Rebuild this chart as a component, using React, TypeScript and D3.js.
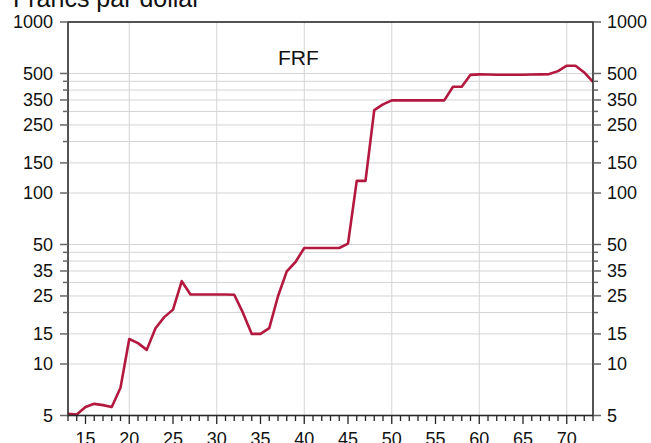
import React from "react";
import * as d3 from "d3";

const years: number[] = [
  13, 14, 15, 16, 17, 18, 19, 20, 21, 22, 23, 24, 25, 26, 27, 28, 29, 30, 31, 32,
  33, 34, 35, 36, 37, 38, 39, 40, 41, 42, 43, 44, 45, 46, 47, 48, 49, 50, 51, 52,
  53, 54, 55, 56, 57, 58, 59, 60, 61, 62, 63, 64, 65, 66, 67, 68, 69, 70, 71, 72, 73,
];
const frf: number[] = [
  5.12, 5.07, 5.6, 5.85, 5.75, 5.6, 7.26, 14.0, 13.25, 12.1, 16.2, 18.8, 20.8, 30.5,
  25.5, 25.5, 25.5, 25.5, 25.5, 25.4, 19.9, 15.0, 15.0, 16.2, 24.9, 34.8, 39.5, 47.7,
  47.7, 47.7, 47.7, 47.7, 50.6, 117.8, 117.8, 305, 330, 348, 348, 348, 348, 348, 348,
  348, 418, 418, 491, 494, 493, 492, 492, 492, 492, 493, 494, 496, 516, 555, 555, 507, 447,
];
const yLabelTicks: number[] = [5, 10, 15, 25, 35, 50, 100, 150, 250, 350, 500, 1000];
const yMinorTicks: number[] = [20, 30, 40, 45, 200, 300, 400, 450];
const xLabelTicks: number[] = [15, 20, 25, 30, 35, 40, 45, 50, 55, 60, 65, 70];
const xGridTicks: number[] = [20, 30, 40, 50, 60, 70];
const seriesName = "FRF";
const unitTitle = "Francs par dollar";

const W = 651;
const H = 443;
const L = 68;
const R = 593;
const T = 22;
const B = 415.5;
const FONT = "'Liberation Sans', Arial, sans-serif";

function Txt(props: { x: number; y: number; size: number; anchor?: string; children: React.ReactNode }) {
  return (
    <text
      x={props.x}
      y={props.y}
      fontSize={props.size}
      fontFamily={FONT}
      textAnchor={props.anchor || "start"}
      fill="#111"
    >
      {props.children}
    </text>
  );
}

export default function App() {
  const x = d3.scaleLinear().domain([13, 73]).range([L, R]);
  const y = d3.scaleLog().domain([5, 1000]).range([B, T]);
  const line = d3
    .line<number>()
    .x((_, i) => x(years[i]))
    .y((d) => y(d));
  const allMinorX = d3.range(13, 74);
  const gridY = [...yLabelTicks, ...yMinorTicks].filter((v) => v !== 5 && v !== 1000);

  return (
    <svg
      width={W}
      height={H}
      style={{ position: "absolute", left: 0, top: 0, background: "#fff" }}
    >
      <rect x={0} y={0} width={W} height={H} fill="#fff" />
      {gridY.map((v) => (
        <line key={"gy" + v} x1={L} x2={R} y1={y(v)} y2={y(v)} stroke="#d4d4d4" strokeWidth={1} />
      ))}
      {xGridTicks.map((v) => (
        <line key={"gx" + v} x1={x(v)} x2={x(v)} y1={T} y2={B} stroke="#d4d4d4" strokeWidth={1} />
      ))}
      <path d={line(frf) || ""} fill="none" stroke="#B3183E" strokeWidth={2.6} strokeLinejoin="round" />
      <rect x={L} y={T} width={R - L} height={B - T} fill="none" stroke="#2a2a2a" strokeWidth={1.6} />
      {yLabelTicks.map((v) => (
        <g key={"yl" + v}>
          <line x1={L - 8} x2={L} y1={y(v)} y2={y(v)} stroke="#666" strokeWidth={1.5} />
          <line x1={R} x2={R + 8} y1={y(v)} y2={y(v)} stroke="#666" strokeWidth={1.5} />
          <Txt x={L - 15} y={y(v) + 6.4} size={18} anchor="end">{v}</Txt>
          <Txt x={R + 14} y={y(v) + 6.4} size={18} anchor="start">{v}</Txt>
        </g>
      ))}
      {yMinorTicks.map((v) => (
        <g key={"ym" + v}>
          <line x1={L - 5} x2={L} y1={y(v)} y2={y(v)} stroke="#666" strokeWidth={1.5} />
          <line x1={R} x2={R + 5} y1={y(v)} y2={y(v)} stroke="#666" strokeWidth={1.5} />
        </g>
      ))}
      {allMinorX.map((v) => (
        <line
          key={"xt" + v}
          x1={x(v)}
          x2={x(v)}
          y1={B}
          y2={B + (v % 5 === 0 ? 8.5 : 5.5)}
          stroke="#222"
          strokeWidth={1.3}
        />
      ))}
      {xLabelTicks.map((v) => (
        <Txt key={"xl" + v} x={x(v)} y={445} size={18} anchor="middle">{v}</Txt>
      ))}
      <Txt x={278} y={65} size={21} anchor="start">{seriesName}</Txt>
      <Txt x={13} y={7} size={25} anchor="start">{unitTitle}</Txt>
    </svg>
  );
}
